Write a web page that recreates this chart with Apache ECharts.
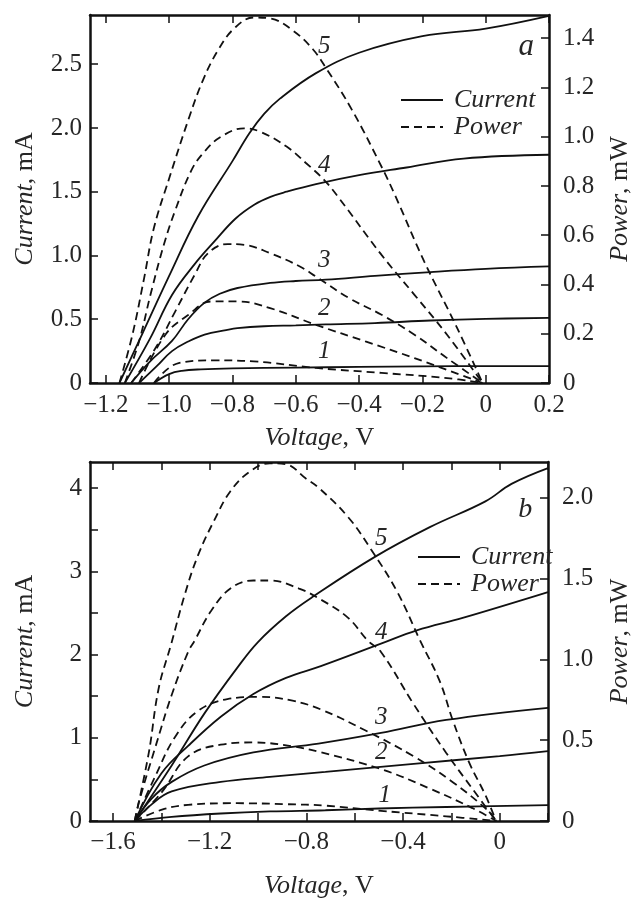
<!DOCTYPE html>
<html><head><meta charset="utf-8">
<script src="https://cdn.jsdelivr.net/npm/echarts@6/dist/echarts.min.js"></script>
<style>html,body{margin:0;padding:0;background:#fff}#c{width:641px;height:900px}</style>
</head><body><div id="c"></div>
<script>
// ---------- Panel a : [Voltage V, Current mA] ----------
const a_I1 = [[-1.048,0],[-1.0,0.07],[-0.96,0.095],[-0.9,0.107],[-0.8,0.115],[-0.6,0.121],[-0.4,0.126],[-0.2,0.13],[0,0.133],[0.2,0.132]];
const a_I2 = [[-1.095,0],[-1.04,0.13],[-0.991,0.25],[-0.94,0.325],[-0.888,0.38],[-0.82,0.415],[-0.784,0.43],[-0.7,0.445],[-0.6,0.452],[-0.505,0.46],[-0.35,0.47],[-0.174,0.49],[0,0.503],[0.2,0.51]];
const a_I3 = [[-1.12,0],[-1.06,0.17],[-0.991,0.33],[-0.94,0.5],[-0.888,0.63],[-0.84,0.70],[-0.784,0.745],[-0.681,0.785],[-0.6,0.80],[-0.505,0.81],[-0.35,0.84],[-0.174,0.87],[0,0.895],[0.2,0.914]];
const a_I4 = [[-1.14,0],[-1.06,0.35],[-0.991,0.69],[-0.92,0.93],[-0.857,1.11],[-0.79,1.29],[-0.73,1.40],[-0.68,1.46],[-0.629,1.50],[-0.536,1.56],[-0.4,1.63],[-0.25,1.69],[-0.07,1.76],[0.2,1.79]];
const a_I5 = [[-1.157,0],[-1.084,0.39],[-1.0,0.84],[-0.908,1.31],[-0.80,1.74],[-0.746,1.96],[-0.70,2.11],[-0.65,2.23],[-0.536,2.43],[-0.4,2.59],[-0.2,2.72],[0,2.78],[0.2,2.88]];
// ---------- Panel a : [Voltage V, Power mW] ----------
const a_P1 = [[-1.048,0],[-0.97,0.081],[-0.857,0.092],[-0.733,0.088],[-0.536,0.061],[-0.329,0.041],[-0.122,0.02],[-0.01,0]];
const a_P2 = [[-1.095,0],[-1.012,0.196],[-0.939,0.277],[-0.867,0.331],[-0.784,0.331],[-0.681,0.304],[-0.536,0.236],[-0.38,0.169],[-0.225,0.101],[-0.01,0]];
const a_P3 = [[-1.12,0],[-1.043,0.142],[-0.981,0.29],[-0.919,0.44],[-0.877,0.527],[-0.815,0.564],[-0.763,0.561],[-0.681,0.527],[-0.587,0.473],[-0.536,0.432],[-0.432,0.345],[-0.329,0.277],[-0.225,0.196],[-0.122,0.101],[-0.01,0]];
const a_P4 = [[-1.14,0],[-1.095,0.169],[-1.059,0.358],[-1.017,0.56],[-0.981,0.70],[-0.929,0.865],[-0.888,0.94],[-0.836,1.0],[-0.763,1.034],[-0.712,1.02],[-0.629,0.96],[-0.567,0.892],[-0.51,0.824],[-0.463,0.75],[-0.329,0.52],[-0.225,0.358],[-0.122,0.196],[-0.01,0]];
const a_P5 = [[-1.157,0],[-1.116,0.196],[-1.079,0.426],[-1.048,0.63],[-1.0,0.83],[-0.939,1.07],[-0.893,1.23],[-0.846,1.35],[-0.794,1.44],[-0.732,1.484],[-0.681,1.48],[-0.608,1.43],[-0.546,1.355],[-0.505,1.28],[-0.422,1.108],[-0.329,0.878],[-0.287,0.764],[-0.194,0.493],[-0.09,0.223],[-0.01,0]];
// ---------- Panel b : [Voltage V, Current mA] ----------
const b_I1 = [[-1.51,0],[-1.357,0.05],[-1.154,0.09],[-0.95,0.115],[-0.721,0.129],[-0.5,0.15],[-0.221,0.168],[0.2,0.19]];
const b_I2 = [[-1.51,0],[-1.44,0.2],[-1.357,0.355],[-1.154,0.47],[-0.951,0.53],[-0.721,0.59],[-0.356,0.687],[0,0.78],[0.2,0.84]];
const b_I3 = [[-1.51,0],[-1.44,0.27],[-1.357,0.47],[-1.222,0.667],[-1.019,0.824],[-0.75,0.93],[-0.491,1.058],[-0.221,1.214],[0.2,1.36]];
const b_I4 = [[-1.51,0],[-1.40,0.57],[-1.289,0.902],[-1.154,1.253],[-1.019,1.526],[-0.884,1.72],[-0.74,1.86],[-0.491,2.13],[-0.343,2.29],[-0.153,2.44],[0.2,2.75]];
const b_I5 = [[-1.51,0],[-1.357,0.667],[-1.222,1.29],[-1.086,1.84],[-1.0,2.15],[-0.884,2.46],[-0.775,2.69],[-0.518,3.17],[-0.289,3.53],[-0.059,3.84],[0.049,4.05],[0.2,4.24]];
// ---------- Panel b : [Voltage V, Power mW] ----------
const b_P1 = [[-1.51,0],[-1.397,0.07],[-1.289,0.1],[-1.086,0.11],[-0.884,0.104],[-0.721,0.095],[-0.491,0.063],[-0.221,0.029],[-0.015,0]];
const b_P2 = [[-1.51,0],[-1.397,0.18],[-1.289,0.40],[-1.154,0.472],[-1.019,0.486],[-0.857,0.462],[-0.74,0.425],[-0.491,0.321],[-0.288,0.2],[-0.113,0.08],[-0.015,0]];
const b_P3 = [[-1.51,0],[-1.424,0.28],[-1.343,0.52],[-1.249,0.68],[-1.127,0.754],[-0.992,0.768],[-0.857,0.744],[-0.74,0.69],[-0.559,0.563],[-0.356,0.40],[-0.194,0.24],[-0.045,0.06],[-0.015,0]];
const b_P4 = [[-1.51,0],[-1.492,0.12],[-1.424,0.46],[-1.357,0.78],[-1.289,1.046],[-1.262,1.116],[-1.195,1.297],[-1.114,1.438],[-1.019,1.488],[-0.951,1.488],[-0.83,1.438],[-0.74,1.37],[-0.627,1.257],[-0.546,1.116],[-0.491,1.046],[-0.356,0.723],[-0.221,0.421],[-0.113,0.2],[-0.015,0]];
const b_P5 = [[-1.51,0],[-1.452,0.42],[-1.411,0.82],[-1.36,1.09],[-1.303,1.40],[-1.249,1.64],[-1.181,1.86],[-1.114,2.04],[-1.033,2.163],[-0.951,2.213],[-0.884,2.207],[-0.803,2.12],[-0.749,2.062],[-0.627,1.88],[-0.532,1.68],[-0.424,1.418],[-0.329,1.116],[-0.248,0.865],[-0.194,0.623],[-0.126,0.361],[-0.059,0.16],[-0.015,0]];

// ---------- Tick values ----------
const a_xTicks = [-1.2,-1.0,-0.8,-0.6,-0.4,-0.2,0,0.2];
const a_yTicks = [0,0.5,1.0,1.5,2.0,2.5];
const a_pTicks = [0,0.2,0.4,0.6,0.8,1.0,1.2,1.4];
const b_xTicks = [-1.6,-1.4,-1.2,-1.0,-0.8,-0.6,-0.4,-0.2,0,0.2];
const b_xLabels = [-1.6,-1.2,-0.8,-0.4,0];
const b_yTicks = [0,0.5,1,1.5,2,2.5,3,3.5,4];
const b_yLabels = [0,1,2,3,4];
const b_pTicks = [0,0.5,1.0,1.5,2.0];

// annotation anchors (data coordinates)
const a_notes = [[-0.51,0.248,'1'],[-0.51,0.588,'2'],[-0.51,0.965,'3'],[-0.51,1.71,'4'],[-0.51,2.64,'5']];
const b_notes = [[-0.475,0.31,'1'],[-0.49,0.82,'2'],[-0.49,1.25,'3'],[-0.49,2.26,'4'],[-0.49,3.40,'5']];

const FONT = '"Liberation Serif","Times New Roman",serif';
const INK = '#111';
const TXT = '#262626';
function fmt(v, d){ if (Math.abs(v) < 1e-9) return '0'; return (v < 0 ? '\u2212' : '') + Math.abs(v).toFixed(d); }
const NS = 26;
const nameStyle = {fontFamily: FONT, fontSize: NS, color: TXT,
  rich: {i: {fontFamily: FONT, fontSize: NS, fontStyle: 'italic', color: TXT}, r: {fontFamily: FONT, fontSize: NS, color: TXT}}};
const lblBase = {color: TXT, fontFamily: FONT, fontSize: 25};
const spine = {show: true, onZero: false, lineStyle: {color: INK, width: 2.5}};

function xAxis(grid, pos, min, max, ticks, labels, d, gap, margin) {
  const ax = {type: 'value', gridIndex: grid, position: pos, min, max,
    axisLine: spine,
    axisTick: {show: true, inside: true, length: 8, customValues: ticks, lineStyle: {color: INK, width: 1.5}},
    splitLine: {show: false}};
  if (labels) {
    ax.axisLabel = Object.assign({show: true, customValues: labels, formatter: v => fmt(v, d), margin}, lblBase);
    ax.name = '{i|Voltage}{r|, V}'; ax.nameLocation = 'middle'; ax.nameGap = gap; ax.nameTextStyle = nameStyle;
  } else {
    ax.axisLabel = {show: false};
  }
  return ax;
}
function yAxis(grid, pos, max, ticks, labels, d, name, gap, margin) {
  return {type: 'value', gridIndex: grid, position: pos, min: 0, max,
    axisLine: spine,
    axisTick: {show: true, inside: true, length: 8, customValues: ticks, lineStyle: {color: INK, width: 1.5}},
    axisLabel: Object.assign({show: true, customValues: labels, formatter: v => fmt(v, d), margin}, lblBase),
    splitLine: {show: false},
    name, nameLocation: 'middle', nameGap: gap, nameTextStyle: nameStyle};
}
function line(name, data, xi, yi, dashed) {
  return {type: 'line', name, data, xAxisIndex: xi, yAxisIndex: yi, symbol: 'none', showSymbol: false,
    smooth: 0.4, silent: true, animation: false, z: 3,
    lineStyle: {color: INK, width: 1.8, type: dashed ? [8, 5] : 'solid'}, itemStyle: {color: INK}};
}
function notes(data, xi, yi, extra) {
  const d = data.map(n => ({value: [n[0], n[1]], name: n[2]}));
  if (extra) d.push(extra);
  return {type: 'scatter', xAxisIndex: xi, yAxisIndex: yi, symbolSize: 0, silent: true, animation: false, z: 5,
    itemStyle: {opacity: 1, color: TXT},
    data: d,
    label: {show: true, position: 'inside', formatter: '{b}', fontFamily: FONT, fontStyle: 'italic', fontSize: 25, color: TXT, opacity: 1}};
}

const series = [];
[a_I1, a_I2, a_I3, a_I4, a_I5].forEach(d => series.push(line('Current', d, 0, 0, false)));
[a_P1, a_P2, a_P3, a_P4, a_P5].forEach(d => series.push(line('Power', d, 0, 1, true)));
[b_I1, b_I2, b_I3, b_I4, b_I5].forEach(d => series.push(line('Current', d, 2, 2, false)));
[b_P1, b_P2, b_P3, b_P4, b_P5].forEach(d => series.push(line('Power', d, 2, 3, true)));
series.push(notes(a_notes, 0, 0, {value: [0.128, 2.64], name: 'a', label: {fontSize: 31}}));
series.push(notes(b_notes, 2, 2, {value: [0.106, 3.74], name: 'b', label: {fontSize: 28}}));

const legendBase = {orient: 'vertical', itemWidth: 42, itemHeight: 12, itemGap: 1, padding: 0, selectedMode: false,
  data: ['Current', 'Power'],
  itemStyle: {opacity: 0},
  textStyle: {fontFamily: FONT, fontStyle: 'italic', fontSize: 26, color: TXT, padding: [0, 0, 0, 6]}};

const option = {
  backgroundColor: '#fff',
  animation: false,
  grid: [
    {left: 90, top: 15, width: 467, height: 368, containLabel: false},
    {left: 90, top: 462, width: 467, height: 368, containLabel: false}
  ],
  xAxis: [
    xAxis(0, 'bottom', -1.25, 0.2, a_xTicks, a_xTicks, 1, 42, 10),
    xAxis(0, 'top', -1.25, 0.2, a_xTicks, null),
    xAxis(1, 'bottom', -1.695, 0.2, b_xTicks, b_xLabels, 1, 52, 9),
    xAxis(1, 'top', -1.695, 0.2, b_xTicks, null)
  ],
  yAxis: [
    yAxis(0, 'left', 2.886, a_yTicks, a_yTicks, 1, '{i|Current}{r|, mA}', 52, 8),
    yAxis(0, 'right', 1.494, a_pTicks, a_pTicks, 1, '{i|Power}{r|, mW}', 58, 14),
    yAxis(1, 'left', 4.313, b_yTicks, b_yLabels, 0, '{i|Current}{r|, mA}', 52, 8),
    yAxis(1, 'right', 2.221, b_pTicks, b_pTicks, 1, '{i|Power}{r|, mW}', 59, 14)
  ],
  legend: [
    Object.assign({left: 400, top: 87}, legendBase),
    Object.assign({left: 417, top: 544}, legendBase)
  ],
  series
};
const chart = echarts.init(document.getElementById('c'), null, {renderer: 'canvas'});
chart.setOption(option);
</script></body></html>
